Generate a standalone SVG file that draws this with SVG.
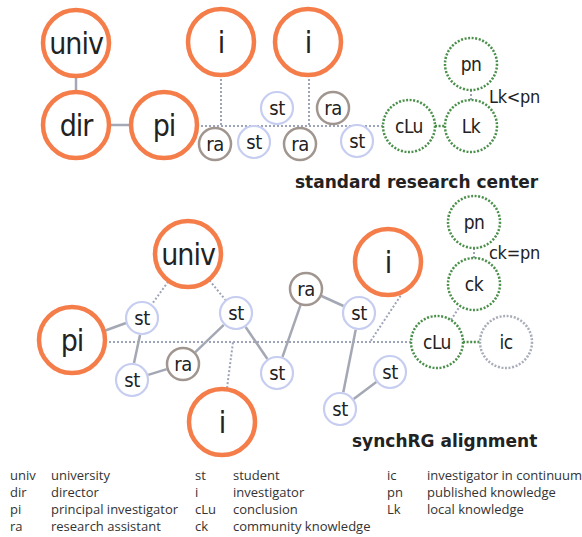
<svg xmlns="http://www.w3.org/2000/svg" width="582" height="537" viewBox="0 0 582 537">
<style>
.big{fill:#fff;stroke:#f47d4a;stroke-width:4.5}
.st{fill:#fff;stroke:#c6cdf0;stroke-width:2.2}
.ra{fill:#fff;stroke:#a1968f;stroke-width:2.5}
.gk{fill:#fff;stroke:#4a8f4a;stroke-width:2.5;stroke-dasharray:2 1.6}
.gy{fill:#fff;stroke:#a9adb8;stroke-width:2.5;stroke-dasharray:2 1.6}
.ln{stroke:#a4a8b4;stroke-width:2.5;fill:none}
.dt{stroke:#9ea4b8;stroke-width:2;stroke-dasharray:2 2;fill:none}
.dg{stroke:#4a8f4a;stroke-width:2.5;stroke-dasharray:2 1.6;fill:none}
text{font-family:"DejaVu Sans Condensed","DejaVu Sans",sans-serif;font-stretch:condensed;fill:#222;text-anchor:middle}
.tb{font-size:30px;letter-spacing:-1px}
.ts{font-size:20px;letter-spacing:-0.5px}
.tg{font-size:19px;letter-spacing:-0.5px}
.tr{font-size:18px;text-anchor:start;letter-spacing:-0.3px}
.title{font-family:"DejaVu Sans",sans-serif;font-stretch:normal;font-weight:bold;font-size:17px;text-anchor:start}
.lg{font-family:"Open Sans",sans-serif;font-stretch:normal;font-size:13px;text-anchor:start;fill:#333}
</style>
<g id="connectors">
<line class="ln" x1="76" y1="76" x2="76" y2="92"/>
<line class="ln" x1="109" y1="125" x2="131" y2="125"/>
<line class="dt" x1="197" y1="126" x2="383" y2="126"/>
<line class="dt" x1="221" y1="75" x2="221" y2="126"/>
<line class="dt" x1="309" y1="75" x2="309" y2="126"/>
<line class="dt" x1="471" y1="90" x2="471" y2="100"/>
<line class="dg" x1="435" y1="126" x2="445" y2="126"/>
<line class="dt" x1="105" y1="342" x2="411" y2="342"/>
<line class="ln" x1="104" y1="331" x2="126" y2="323"/>
<line class="ln" x1="140" y1="335" x2="134" y2="363"/>
<line class="ln" x1="148.2" y1="374.9" x2="166.8" y2="369.1"/>
<line class="ln" x1="195.3" y1="352.2" x2="223.8" y2="324.8"/>
<line class="ln" x1="245.6" y1="327" x2="267.4" y2="359"/>
<line class="ln" x1="282.5" y1="356.9" x2="300.5" y2="305.1"/>
<line class="ln" x1="321.5" y1="296" x2="343.5" y2="306"/>
<line class="ln" x1="355.7" y1="329.7" x2="343.3" y2="392.3"/>
<line class="ln" x1="353.7" y1="398.9" x2="376.3" y2="382.1"/>
<line class="dt" x1="168.2" y1="281.6" x2="151.9" y2="304.2"/>
<line class="dt" x1="209.5" y1="280.4" x2="225.3" y2="299.8"/>
<line class="dt" x1="227" y1="388" x2="233" y2="342"/>
<line class="dt" x1="405" y1="289" x2="370" y2="342"/>
<line class="dt" x1="451" y1="320" x2="460" y2="306"/>
<line class="dt" x1="474" y1="248" x2="474" y2="258"/>
<line class="dg" x1="463" y1="342" x2="480" y2="342"/>
</g>
<g id="univ1"><circle class="big" cx="76" cy="43" r="33"/><text class="tb" x="76" y="54">univ</text></g>
<g id="dir"><circle class="big" cx="76" cy="125" r="33"/><text class="tb" x="76" y="136">dir</text></g>
<g id="pi1"><circle class="big" cx="164" cy="125" r="33"/><text class="tb" x="164" y="136">pi</text></g>
<g id="i1"><circle class="big" cx="221" cy="42" r="33"/><text class="tb" x="221" y="53">i</text></g>
<g id="i2"><circle class="big" cx="308" cy="42" r="33"/><text class="tb" x="308" y="53">i</text></g>
<g id="st1"><circle class="st" cx="277" cy="108" r="16"/><text class="ts" x="277" y="115">st</text></g>
<g id="ra1"><circle class="ra" cx="333" cy="108" r="16"/><text class="ts" x="333" y="115">ra</text></g>
<g id="ra2"><circle class="ra" cx="215" cy="144" r="16"/><text class="ts" x="215" y="151">ra</text></g>
<g id="st2"><circle class="st" cx="254" cy="142" r="16"/><text class="ts" x="254" y="149">st</text></g>
<g id="ra3"><circle class="ra" cx="300" cy="144" r="16"/><text class="ts" x="300" y="151">ra</text></g>
<g id="st3"><circle class="st" cx="357" cy="141" r="16"/><text class="ts" x="357" y="148">st</text></g>
<g id="cLu1"><circle class="gk" cx="409" cy="126" r="26"/><text class="tg" x="409" y="133">cLu</text></g>
<g id="Lk"><circle class="gk" cx="471" cy="126" r="26"/><text class="tg" x="471" y="133">Lk</text></g>
<g id="pn1"><circle class="gk" cx="471" cy="64" r="26"/><text class="tg" x="471" y="71">pn</text></g>
<text class="tr" x="489" y="103">Lk&lt;pn</text>
<text class="title" x="295" y="188">standard research center</text>

<g id="univ2"><circle class="big" cx="188" cy="254" r="33"/><text class="tb" x="188" y="265">univ</text></g>
<g id="pi2"><circle class="big" cx="72" cy="340" r="33"/><text class="tb" x="72" y="351">pi</text></g>
<g id="i3"><circle class="big" cx="222" cy="422" r="33"/><text class="tb" x="222" y="433">i</text></g>
<g id="i4"><circle class="big" cx="388" cy="262" r="33"/><text class="tb" x="388" y="273">i</text></g>
<g id="st_a"><circle class="st" cx="142" cy="318" r="16"/><text class="ts" x="142" y="325">st</text></g>
<g id="st_b"><circle class="st" cx="132" cy="380" r="16"/><text class="ts" x="132" y="387">st</text></g>
<g id="ra_b"><circle class="ra" cx="183" cy="364" r="16"/><text class="ts" x="183" y="371">ra</text></g>
<g id="st_c"><circle class="st" cx="236" cy="313" r="16"/><text class="ts" x="236" y="320">st</text></g>
<g id="st_d"><circle class="st" cx="277" cy="373" r="16"/><text class="ts" x="277" y="380">st</text></g>
<g id="ra_c"><circle class="ra" cx="306" cy="289" r="16"/><text class="ts" x="306" y="296">ra</text></g>
<g id="st_e"><circle class="st" cx="359" cy="313" r="16"/><text class="ts" x="359" y="320">st</text></g>
<g id="st_f"><circle class="st" cx="390" cy="372" r="16"/><text class="ts" x="390" y="379">st</text></g>
<g id="st_g"><circle class="st" cx="340" cy="409" r="16"/><text class="ts" x="340" y="416">st</text></g>
<g id="pn2"><circle class="gk" cx="474" cy="222" r="26"/><text class="tg" x="474" y="229">pn</text></g>
<g id="ck"><circle class="gk" cx="474" cy="284" r="26"/><text class="tg" x="474" y="291">ck</text></g>
<g id="cLu2"><circle class="gk" cx="437" cy="342" r="26"/><text class="tg" x="437" y="349">cLu</text></g>
<g id="ic"><circle class="gy" cx="506" cy="342" r="26"/><text class="tg" x="506" y="349">ic</text></g>
<text class="tr" x="489" y="259">ck=pn</text>
<text class="title" x="352" y="447">synchRG alignment</text>

<g id="legend">
<text class="lg" x="10" y="480">univ</text><text class="lg" x="51" y="480">university</text>
<text class="lg" x="10" y="497">dir</text><text class="lg" x="51" y="497">director</text>
<text class="lg" x="10" y="514">pi</text><text class="lg" x="51" y="514">principal investigator</text>
<text class="lg" x="10" y="531">ra</text><text class="lg" x="51" y="531">research assistant</text>
<text class="lg" x="195" y="480">st</text><text class="lg" x="233" y="480">student</text>
<text class="lg" x="195" y="497">i</text><text class="lg" x="233" y="497">investigator</text>
<text class="lg" x="195" y="514">cLu</text><text class="lg" x="233" y="514">conclusion</text>
<text class="lg" x="195" y="531">ck</text><text class="lg" x="233" y="531">community knowledge</text>
<text class="lg" x="387" y="480">ic</text><text class="lg" x="427" y="480">investigator in continuum</text>
<text class="lg" x="387" y="497">pn</text><text class="lg" x="427" y="497">published knowledge</text>
<text class="lg" x="387" y="514">Lk</text><text class="lg" x="427" y="514">local knowledge</text>
</g>
</svg>
